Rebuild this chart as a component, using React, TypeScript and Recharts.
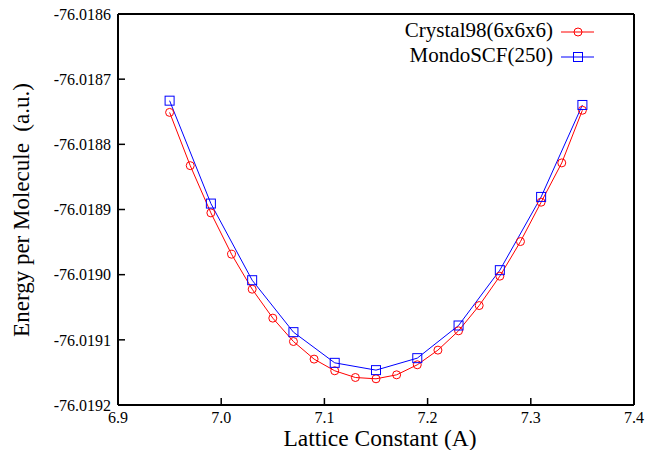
import React from 'react';
import { LineChart, Line, XAxis, YAxis, Legend } from 'recharts';

const crystalX = [6.95, 6.97, 6.99, 7.01, 7.03, 7.05, 7.07, 7.09, 7.11, 7.13, 7.15, 7.17, 7.19, 7.21, 7.23, 7.25, 7.27, 7.29, 7.31, 7.33, 7.35];
const crystalY = [-76.018751, -76.0188327, -76.0189052, -76.0189686, -76.0190223, -76.0190667, -76.0191026, -76.0191296, -76.0191475, -76.0191578, -76.0191598, -76.0191537, -76.0191383, -76.0191158, -76.0190862, -76.0190474, -76.0190023, -76.0189492, -76.0188888, -76.0188285, -76.0187477];
const mondoX = [6.95, 6.99, 7.03, 7.07, 7.11, 7.15, 7.19, 7.23, 7.27, 7.31, 7.35];
const mondoY = [-76.018733, -76.0188909, -76.0190085, -76.0190882, -76.0191353, -76.0191465, -76.0191281, -76.019078, -76.0189931, -76.0188807, -76.0187396];
const xTicks = [6.9, 7.0, 7.1, 7.2, 7.3, 7.4];
const yTicks = [-76.0192, -76.0191, -76.019, -76.0189, -76.0188, -76.0187, -76.0186];
const seriesNames = ['Crystal98(6x6x6)', 'MondoSCF(250)'];

const crystalData = crystalX.map((x, i) => ({ x, y: crystalY[i] }));
const mondoData = mondoX.map((x, i) => ({ x, y: mondoY[i] }));

const FONT = '"Liberation Serif", "Times New Roman", serif';
const tickStyle = { fontSize: 16, fill: '#000', style: { fontFamily: FONT } };
const axisLine = { stroke: '#000', strokeWidth: 2 };
const tickLine = { stroke: '#000', strokeWidth: 1.5 };
const txt = { fontFamily: FONT };

const SquareDot = (props: any) => {
  const { cx, cy } = props;
  if (cx == null || cy == null) return null;
  return <rect x={cx - 4.5} y={cy - 4.5} width={9} height={9} fill="none" stroke="#0000ff" strokeWidth={1} />;
};

const LegendBox = () => (
  <svg width={260} height={55} style={{ overflow: 'visible' }}>
    <text x={173} y={22} textAnchor="end" fontSize={21} fill="#000" style={txt}>{seriesNames[0]}</text>
    <line x1={181} x2={214} y1={17} y2={17} stroke="#ff0000" strokeWidth={1} />
    <circle cx={198} cy={17} r={4} fill="none" stroke="#ff0000" strokeWidth={1} />
    <text x={173} y={47} textAnchor="end" fontSize={21} fill="#000" style={txt}>{seriesNames[1]}</text>
    <line x1={181} x2={214} y1={42} y2={42} stroke="#0000ff" strokeWidth={1} />
    <rect x={193.5} y={37.5} width={9} height={9} fill="none" stroke="#0000ff" strokeWidth={1} />
  </svg>
);

export default function App() {
  return (
    <div style={{ position: 'absolute', left: 0, top: 0, width: 660, height: 450, background: '#fff' }}>
      <LineChart width={660} height={450} margin={{ top: 13, right: 25, left: 0, bottom: 0 }}>
        <XAxis
          dataKey="x"
          type="number"
          domain={[6.9, 7.4]}
          ticks={xTicks}
          allowDataOverflow
          height={45}
          tickSize={-7}
          tickMargin={14}
          tick={tickStyle}
          tickFormatter={(v: number) => v.toFixed(1)}
          axisLine={axisLine}
          tickLine={tickLine}
          label={{
            content: () => (
              <text x={380} y={446} textAnchor="middle" fontSize={23.5} fill="#000" style={txt}>Lattice Constant (A)</text>
            ),
          }}
        />
        <XAxis
          xAxisId="top"
          orientation="top"
          dataKey="x"
          type="number"
          domain={[6.9, 7.4]}
          ticks={xTicks}
          allowDataOverflow
          height={1}
          tickSize={-7}
          tick={false}
          axisLine={axisLine}
          tickLine={tickLine}
        />
        <YAxis
          dataKey="y"
          type="number"
          domain={[-76.0192, -76.0186]}
          ticks={yTicks}
          allowDataOverflow
          width={118}
          tickSize={-7}
          tickMargin={14}
          tick={tickStyle}
          tickFormatter={(v: number) => v.toFixed(4)}
          axisLine={axisLine}
          tickLine={tickLine}
          label={{
            content: () => (
              <text x={29} y={210} transform="rotate(-90, 29, 210)" textAnchor="middle" fontSize={23} fill="#000" style={{ ...txt, whiteSpace: 'pre' }}>Energy per Molecule  (a.u.)</text>
            ),
          }}
        />
        <YAxis
          yAxisId="right"
          orientation="right"
          dataKey="y"
          type="number"
          domain={[-76.0192, -76.0186]}
          ticks={yTicks}
          allowDataOverflow
          width={1}
          tickSize={-7}
          tick={false}
          axisLine={axisLine}
          tickLine={tickLine}
        />
        <Legend
          layout="vertical"
          align="center"
          verticalAlign="middle"
          content={() => <LegendBox />}
          wrapperStyle={{ position: 'absolute', left: 380, top: 15, width: 260, height: 55 }}
        />
        <Line
          data={crystalData}
          dataKey="y"
          name={seriesNames[0]}
          type="linear"
          stroke="#ff0000"
          strokeWidth={1}
          dot={{ r: 4, fill: 'none', stroke: '#ff0000', strokeWidth: 1 }}
          isAnimationActive={false}
        />
        <Line
          data={mondoData}
          dataKey="y"
          name={seriesNames[1]}
          type="linear"
          stroke="#0000ff"
          strokeWidth={1}
          dot={<SquareDot />}
          isAnimationActive={false}
        />
      </LineChart>
    </div>
  );
}
